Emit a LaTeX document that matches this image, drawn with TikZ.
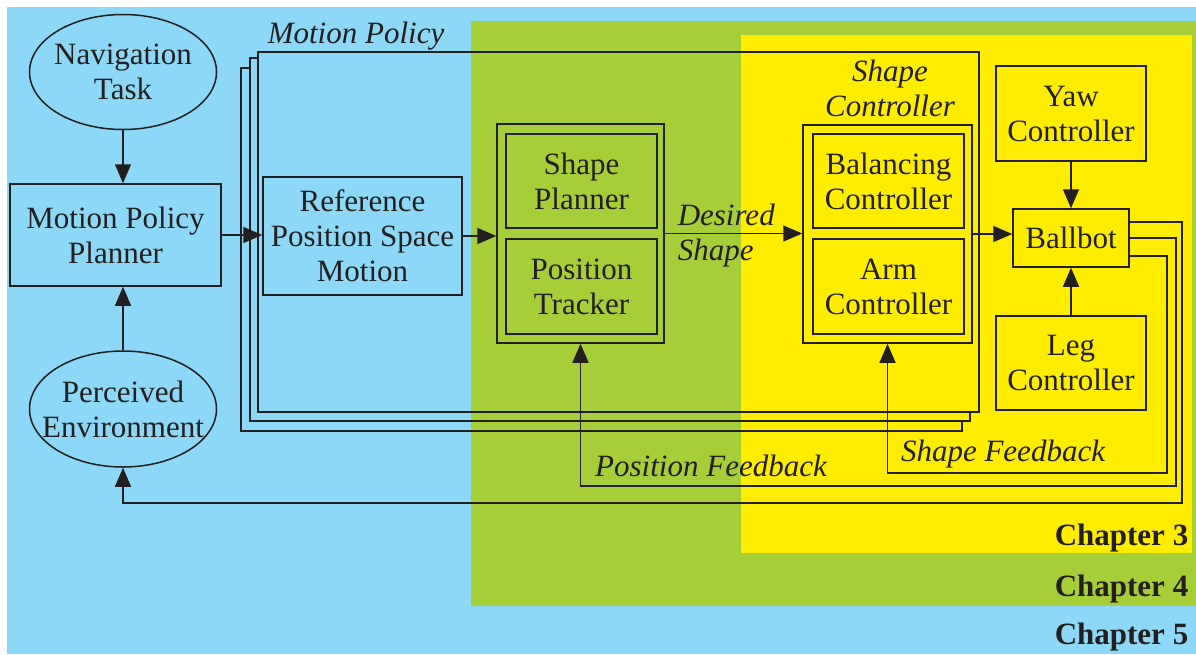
\documentclass[tikz,border=0pt]{standalone}
\usepackage{fontspec}
\setmainfont{Liberation Serif}
\usetikzlibrary{shapes.geometric,arrows.meta,calc}
\definecolor{chapfive}{RGB}{140,216,246}
\definecolor{chapfour}{RGB}{166,206,57}
\definecolor{chapthree}{RGB}{255,237,0}
\definecolor{ink}{RGB}{35,31,32}
\tikzset{
  block/.style={draw, rectangle, align=center, inner sep=0pt, font=\fontsize{31}{35}\selectfont},
  oval/.style={draw, ellipse, align=center, inner ysep=0pt, font=\fontsize{31}{35}\selectfont},
  frame/.style={draw, rectangle, inner sep=0pt},
  lab/.style={font=\fontsize{31}{35}\selectfont\itshape, inner sep=0pt},
  chap/.style={font=\fontsize{31}{35}\selectfont\bfseries, anchor=east, inner sep=0pt},
  flow/.style={-{Triangle[length=19pt,width=16pt]}}
}
\begin{document}
\begin{tikzpicture}[x=1pt,y=-1pt,line width=1.5pt,color=ink]
            \useasboundingbox (0,0) rectangle (1196,654);
            % chapter areas
            \fill[chapfive] (7,7) rectangle (1196,654);
            \fill[chapfour] (471,21) rectangle (1196,606);
            \fill[chapthree] (741,35) rectangle (1192,553);
            % motion policy stack
            \draw (250,68) -- (241,68) -- (241,431) -- (962,431) -- (962,421);
            \draw (258,58) -- (250,58) -- (250,421) -- (970,421) -- (970,412);
            \draw (258,52) rectangle (979,412);
            \node[lab] (policylab) at (356,36) {Motion Policy};
            % blocks
            \node[oval, inner xsep=-5pt, minimum width=187pt, minimum height=115pt] (nav) at (123,72) {Navigation\\Task};
            \node[block, minimum width=211pt, minimum height=102pt] (mpp) at (115.5,235) {Motion Policy\\Planner};
            \node[oval, inner xsep=-19pt, minimum width=187pt, minimum height=116pt] (env) at (123,409) {Perceived\\Environment};
            \node[block, minimum width=199pt, minimum height=118pt] (ref) at (362.5,236) {Reference\\Position Space\\Motion};
            \node[frame, minimum width=167pt, minimum height=219pt] (spt) at (580.5,233.5) {};
            \node[block, minimum width=151pt, minimum height=94pt] (sp) at (581.5,181) {Shape\\Planner};
            \node[block, minimum width=151pt, minimum height=95pt] (pt) at (581.5,286.5) {Position\\Tracker};
            \node[frame, minimum width=169pt, minimum height=218pt] (sco) at (887.5,234) {};
            \node[block, minimum width=151pt, minimum height=94pt] (bal) at (888.5,181) {Balancing\\Controller};
            \node[block, minimum width=151pt, minimum height=95pt] (arm) at (888.5,286.5) {Arm\\Controller};
            \node[block, minimum width=150pt, minimum height=95pt] (yaw) at (1071,113.5) {Yaw\\Controller};
            \node[block, minimum width=116pt, minimum height=58pt] (ball) at (1071,238) {Ballbot};
            \node[block, minimum width=150pt, minimum height=94pt] (leg) at (1071,363) {Leg\\Controller};
            % labels
            \node[lab, anchor=west, align=left] (desiredlab) at (677,236) {Desired\\Shape};
            \node[lab, align=center] (shapectrllab) at (890,88) {Shape\\Controller};
            \node[lab] (posfblab) at (711,466) {Position Feedback};
            \node[lab] (shapefblab) at (1003,454) {Shape Feedback};
            % forward arrows
            \draw[flow] (nav.south) -- (nav.south |- mpp.north);
            \draw[flow] (env.north) -- (env.north |- mpp.south);
            \draw[flow] (mpp.east) -- (mpp.east -| ref.west);
            \draw[flow] (ref.east) -- (ref.east -| spt.west);
            \draw[flow] (spt.east) -- (spt.east -| sco.west);
            \draw[flow] (sco.east) -- (sco.east -| ball.west);
            \draw[flow] (yaw.south) -- (ball.north);
            \draw[flow] (leg.north) -- (ball.south);
            % feedback
            \draw[flow] ($(ball.east)+(0,-16)$) -- (1182,222) -- (1182,503) -| (env.south);
            \draw[flow] (ball.east) -- (1176,238) -- (1176,486) -| (spt.south);
            \draw[flow] ($(ball.east)+(0,18)$) -- (1167,256) -- (1167,473) -| (sco.south);
            % chapters
            \node[chap] (chap3) at (1189,538) {Chapter 3};
            \node[chap] (chap4) at (1189,589) {Chapter 4};
            \node[chap] (chap5) at (1189,637) {Chapter 5};
        \end{tikzpicture}
\end{document}
